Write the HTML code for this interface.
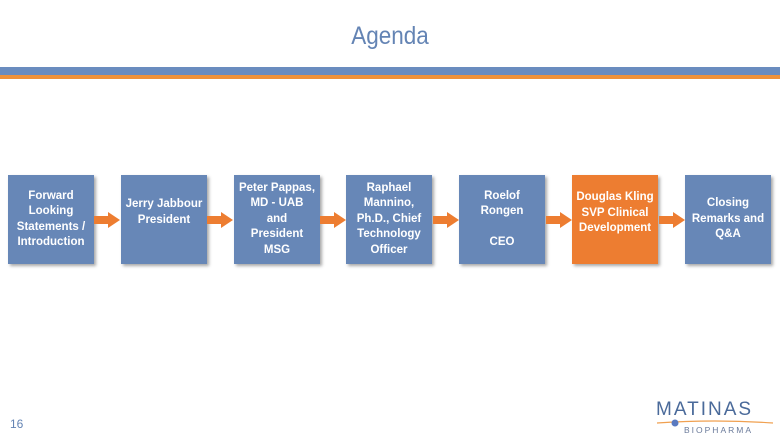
<!DOCTYPE html>
<html><head><meta charset="utf-8"><style>
body{margin:0;width:780px;height:438px;background:#fff;position:relative;overflow:hidden;font-family:"Liberation Sans",sans-serif}
.t{position:absolute;left:0;width:780px;top:22px;text-align:center;color:#6484b4;font-size:25px;transform:scaleX(0.9)}
.b{position:absolute;left:0;width:780px}
.box{position:absolute;top:175px;width:86px;height:89px;background:#6787b7;color:#fff;font-weight:bold;font-size:11.5px;line-height:15.5px;text-align:center;display:flex;align-items:center;justify-content:center;box-shadow:2px 2px 3px rgba(0,0,0,.35)}
.o{background:#ed7d31}
.ar{position:absolute;top:211px}
</style></head><body>
<div class="t">Agenda</div>
<div class="b" style="top:67px;height:8px;background:#6a8cbf"></div>
<div class="b" style="top:75px;height:4px;background:#f0923a"></div>

<div class="box" style="left:8px">Forward<br>Looking<br>Statements /<br>Introduction</div>
<div class="box" style="left:121px;align-items:flex-start;padding-top:22px;height:67px">Jerry Jabbour<br>President</div>
<div class="box" style="left:234px">Peter Pappas,<br>MD - UAB<br>and<br>President<br>MSG</div>
<div class="box" style="left:346px">Raphael<br>Mannino,<br>Ph.D., Chief<br>Technology<br>Officer</div>
<div class="box" style="left:459px">Roelof<br>Rongen<br><br>CEO</div>
<div class="box o" style="left:572px;align-items:flex-start;padding-top:15px;height:74px">Douglas Kling<br>SVP Clinical<br>Development</div>
<div class="box" style="left:685px">Closing<br>Remarks and<br>Q&amp;A</div>

<svg class="ar" style="left:0" width="780" height="18">
<g fill="#ed7d31">
<path d="M94 5h14v-4l12 8l-12 8v-4h-14z"/>
<path d="M207 5h14v-4l12 8l-12 8v-4h-14z"/>
<path d="M320 5h14v-4l12 8l-12 8v-4h-14z"/>
<path d="M433 5h14v-4l12 8l-12 8v-4h-14z"/>
<path d="M546 5h14v-4l12 8l-12 8v-4h-14z"/>
<path d="M659 5h14v-4l12 8l-12 8v-4h-14z"/>
</g></svg>

<div style="position:absolute;left:10px;top:417px;font-size:12px;color:#6484b4">16</div>
<div style="position:absolute;left:656px;top:399px;font-size:19px;letter-spacing:2px;color:#4a6a9a">MATINAS</div>
<svg style="position:absolute;left:655px;top:418px" width="120" height="10"><path d="M2 5 Q60 1 118 5" stroke="#f0a050" stroke-width="1.2" fill="none"/><circle cx="20" cy="5" r="3.5" fill="#5a7ac0"/></svg>
<div style="position:absolute;left:684px;top:425px;font-size:8.5px;letter-spacing:2px;color:#6a7a9a">BIOPHARMA</div>
</body></html>
